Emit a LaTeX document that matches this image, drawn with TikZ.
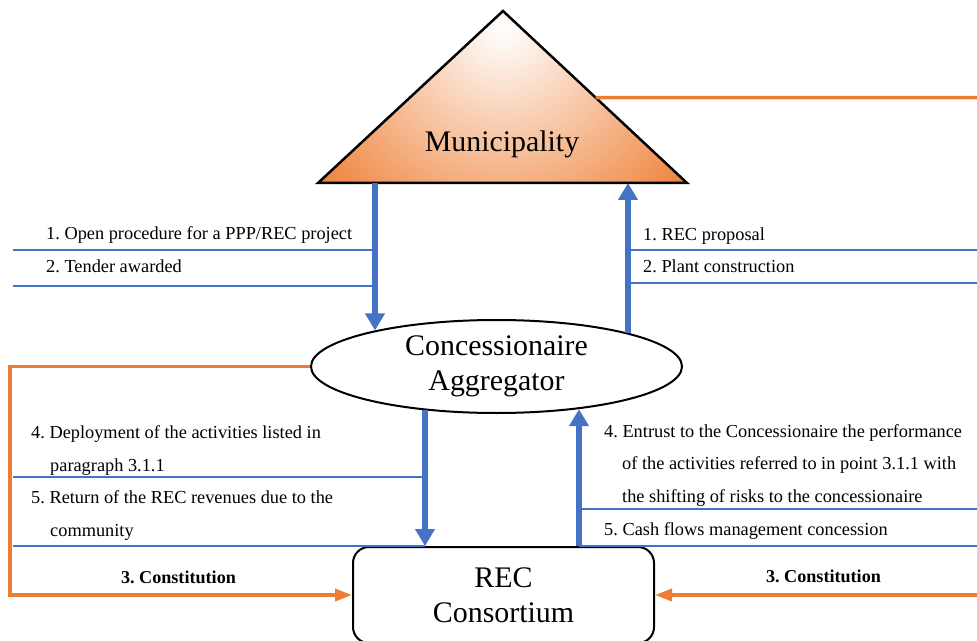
\documentclass[tikz,border=0pt]{standalone}
\usepackage{fontspec}
\setmainfont{Liberation Serif}
\usetikzlibrary{arrows.meta,calc,shapes.geometric}
\definecolor{ublue}{HTML}{4472C4}
\definecolor{uorange}{HTML}{ED7D31}
\frenchspacing
\begin{document}
\begin{tikzpicture}[x=1bp,y=-1bp,
  lbl/.style={font=\fontsize{18.4}{20}\selectfont, inner sep=0, anchor=base west},
  clbl/.style={font=\bfseries\fontsize{18.2}{20}\selectfont, inner sep=0, anchor=base},
  thinline/.style={draw=ublue, line width=1.5bp},
  bigarrow/.style={draw=ublue, line width=6.5bp, -{Triangle[width=19bp,length=17bp]}},
  orangeline/.style={draw=uorange, line width=3.5bp, line join=miter},
  orangearrow/.style={orangeline, -{Triangle[width=12bp,length=17bp]}},
  bigtext/.style={font=\fontsize{30}{35}\selectfont, align=center, inner sep=0}
]
\useasboundingbox (0,0) rectangle (977,641);

% Municipality triangle
\coordinate (apex) at (503,11);
\coordinate (bl) at (318,183);
\coordinate (br) at (687,183);
\begin{scope}
  \clip (apex) -- (bl) -- (br) -- cycle;
  \shade[inner color=white, outer color=uorange] (503,30) circle[radius=250];
\end{scope}
\draw[line width=2.5bp, line join=miter] (apex) -- (bl) -- (br) -- cycle;
\node[font=\fontsize{30}{35}\selectfont, inner sep=0, anchor=base] (muni) at (502,152) {Municipality};

% Concessionaire ellipse
\node[draw, ellipse, line width=2bp, minimum width=371bp, minimum height=93bp, bigtext] (agg) at (496.5,366.5) {Concessionaire\\Aggregator};

% REC Consortium box
\node[draw, rounded corners=16bp, line width=2bp, minimum width=301bp, minimum height=96bp, bigtext] (rec) at (503.5,595) {REC\\Consortium};

% arrow end points on the ellipse border
\coordinate (e1) at (375,330.4);
\coordinate (e2) at (628,332.7);
\coordinate (e3) at (425,410.4);
\coordinate (e4) at (579,409.2);

% thin blue lines
\coordinate (l1) at (13,250);
\coordinate (l2) at (13,286);
\coordinate (r1) at (977,250);
\coordinate (r2) at (977,283);
\coordinate (l3) at (13,477);
\coordinate (l4) at (13,546);
\coordinate (r3) at (977,509);
\coordinate (r4) at (977,546);
\draw[thinline] (l1) -- (l1 -| e1);
\draw[thinline] (l2) -- (l2 -| e1);
\draw[thinline] (r1 -| e2) -- (r1);
\draw[thinline] (r2 -| e2) -- (r2);
\draw[thinline] (l3) -- (l3 -| e3);
\draw[thinline] (l4) -- (l4 -| e3);
\draw[thinline] (r3 -| e4) -- (r3);
\draw[thinline] (r4 -| e4) -- (r4);

% thick blue arrows
\draw[bigarrow] (bl -| e1) -- (e1);
\draw[bigarrow] (e2) -- (br -| e2);
\draw[bigarrow] (e3) -- (e3 |- rec.north);
\draw[bigarrow] (rec.north -| e4) -- (e4);

% orange connectors
\coordinate (tside) at ($(apex)!0.504!(br)$);
\coordinate (topr) at (977,97.7);
\draw[orangeline] (tside) -- (topr);
\coordinate (lc) at (10,480);
\draw[orangearrow] (agg.west) -| (lc) |- (rec.west);
\coordinate (rr) at (977,595);
\draw[orangearrow] (rr) -- (rec.east);

% labels
\node[lbl] (t1) at (46,240) {1. Open procedure for a PPP/REC project};
\node[lbl] (t2) at (46,273) {2. Tender awarded};
\node[lbl] (t3) at (643,241) {1. REC proposal};
\node[lbl] (t4) at (643,273) {2. Plant construction};
\node[lbl] (t5) at (31,438) {4. Deployment of the activities listed in};
\node[lbl] (t5b) at (50,471) {paragraph 3.1.1};
\node[lbl] (t6) at (31,503) {5. Return of the REC revenues due to the};
\node[lbl] (t6b) at (50,536) {community};
\node[lbl] (t7) at (604,437) {4. Entrust to the Concessionaire the performance};
\node[lbl] (t7b) at (622,469) {of the activities referred to in point 3.1.1 with};
\node[lbl] (t7c) at (622,502) {the shifting of risks to the concessionaire};
\node[lbl] (t8) at (604,535) {5. Cash flows management concession};
\node[clbl] (c1) at (178.5,583) {3. Constitution};
\node[clbl] (c2) at (823.5,582) {3. Constitution};
\end{tikzpicture}
\end{document}
